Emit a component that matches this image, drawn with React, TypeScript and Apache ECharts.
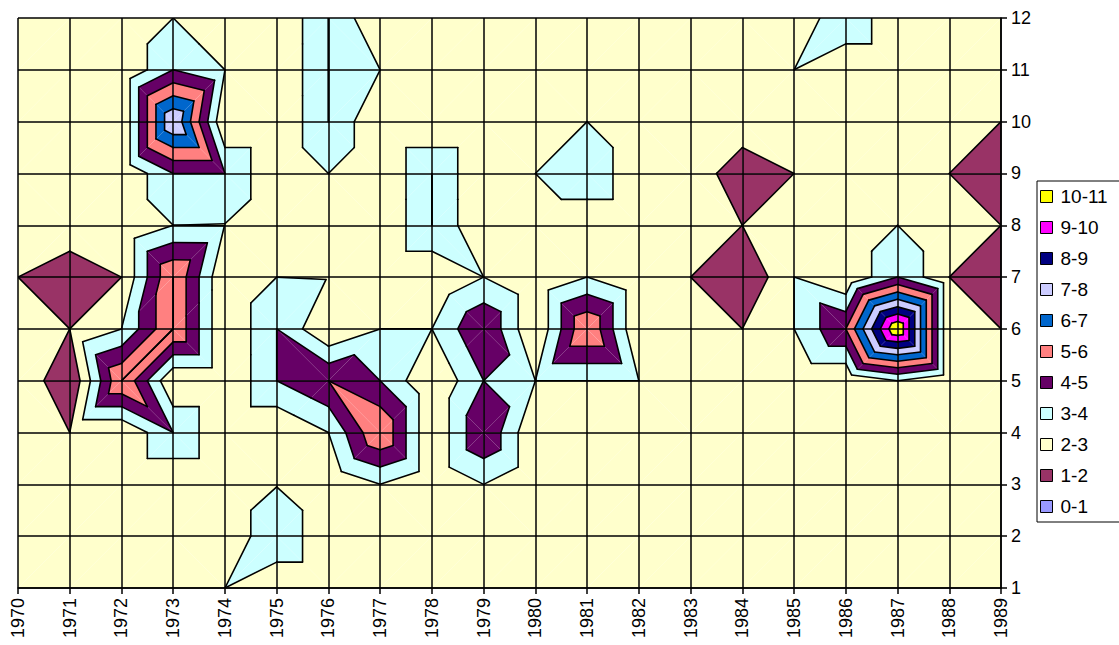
import React, { useEffect, useRef } from "react";
import * as echarts from "echarts";

// ---- data ----
const years = [1970, 1971, 1972, 1973, 1974, 1975, 1976, 1977, 1978, 1979, 1980, 1981, 1982, 1983, 1984, 1985, 1986, 1987, 1988, 1989];
const months = [1, 2, 3, 4, 5, 6, 7, 8, 9, 10, 11, 12];

// value for months 1..12 of each year
const z1970 = [2, 2, 2, 2, 3, 2, 2, 2, 2, 2, 2, 2];
const z1971 = [2, 2, 2, 2, 1, 2, 1, 3, 2, 2, 2, 2];
const z1972 = [2, 2, 2, 2, 6, 3, 2, 2, 2, 2, 2, 2];
const z1973 = [2, 2, 2, 4, 2, 6, 6, 3, 4, 8, 4, 3];
const z1974 = [3, 2, 2, 2, 2, 2, 2, 2.97, 4, 2, 3, 2];
const z1975 = [2, 4, 2.95, 2, 4, 4, 3, 2, 2, 2, 2, 2];
const z1976 = [2, 2, 2, 3, 5, 2, 2.95, 2, 3, 4, 4, 4];
const z1977 = [2, 2, 3, 6, 4, 3, 2, 2, 2, 2, 3, 2];
const z1978 = [2, 2, 2, 2, 2, 3, 2, 4, 4, 2, 2, 2];
const z1979 = [2, 2, 3, 5, 4, 5, 3, 2, 2, 2, 2, 2];
const z1980 = [2, 2, 2, 2, 3, 2, 2, 2, 3, 2, 2, 2];
const z1981 = [2, 2, 2, 2, 3, 6, 3, 2, 4, 3, 2, 2];
const z1982 = [2, 2, 2, 2, 3, 2, 2, 2, 2, 2, 2, 2];
const z1983 = [2, 2, 2, 2, 2, 2, 2, 2, 2.5, 2, 2, 2];
const z1984 = [2, 2, 2, 2, 2, 2, 1, 2, 1.5, 2.5, 2, 2];
const z1985 = [2, 2, 2, 2, 2, 3, 3, 2, 2, 2, 3, 2];
const z1986 = [2, 2, 2, 2, 2, 5, 2, 2, 2, 2, 2, 4];
const z1987 = [2, 2, 2, 2, 3, 11, 4, 3, 2, 2, 2, 2];
const z1988 = [2, 2, 2, 2, 2, 2, 2, 2, 2, 2, 2, 2];
const z1989 = [2, 2, 2, 2, 2, 2, 1, 2, 1, 2, 2, 2];

const Z = [z1970, z1971, z1972, z1973, z1974, z1975, z1976, z1977, z1978, z1979, z1980, z1981, z1982, z1983, z1984, z1985, z1986, z1987, z1988, z1989];

const bandLabels = ["0-1", "1-2", "2-3", "3-4", "4-5", "5-6", "6-7", "7-8", "8-9", "9-10", "10-11"];
const bandColors = ["#9999FF", "#993366", "#FFFFCC", "#CCFFFF", "#660066", "#FF8080", "#0066CC", "#CCCCFF", "#000080", "#FF00FF", "#FFFF00"];
const contourLevels = [1, 2, 3, 4, 5, 6, 7, 8, 9, 10, 11];

const FONT = "'Liberation Sans', Arial, Helvetica, sans-serif";

type P = [number, number, number];

function cellTriangles(i: number, j: number): P[][] {
  const x0 = years[i], x1 = years[i + 1], y0 = months[j], y1 = months[j + 1];
  const A: P = [x0, y0, Z[i][j]];
  const B: P = [x1, y0, Z[i + 1][j]];
  const C: P = [x0, y1, Z[i][j + 1]];
  const D: P = [x1, y1, Z[i + 1][j + 1]];
  if (A[2] + D[2] >= B[2] + C[2]) return [[A, B, D], [A, D, C]];
  return [[A, B, C], [B, D, C]];
}

function clip(poly: P[], L: number, above: boolean): P[] {
  const out: P[] = [];
  for (let k = 0; k < poly.length; k++) {
    const a = poly[k], b = poly[(k + 1) % poly.length];
    const ina = above ? a[2] >= L : a[2] <= L;
    const inb = above ? b[2] >= L : b[2] <= L;
    if (ina) out.push(a);
    if (ina !== inb) {
      const t = (L - a[2]) / (b[2] - a[2]);
      out.push([a[0] + t * (b[0] - a[0]), a[1] + t * (b[1] - a[1]), L]);
    }
  }
  return out;
}

function area(poly: P[]): number {
  let s = 0;
  for (let k = 0; k < poly.length; k++) {
    const a = poly[k], b = poly[(k + 1) % poly.length];
    s += a[0] * b[1] - b[0] * a[1];
  }
  return Math.abs(s / 2);
}

const cells: number[][] = [];
for (let i = 0; i < years.length - 1; i++) {
  for (let j = 0; j < months.length - 1; j++) cells.push([years[i], months[j]]);
}

function bandRenderer(k: number) {
  return (params: any, api: any) => {
    const i = years.indexOf(api.value(0));
    const j = months.indexOf(api.value(1));
    const children: any[] = [];
    for (const tri of cellTriangles(i, j)) {
      let poly = clip(tri, k, true);
      if (poly.length < 3) continue;
      poly = clip(poly, k + 1, false);
      if (poly.length < 3 || area(poly) < 1e-7) continue;
      const minZ = Math.min(...poly.map((p) => p[2]));
      if (minZ >= k + 1 - 1e-9) continue;
      children.push({
        type: "polygon",
        shape: { points: poly.map((p) => api.coord([p[0], p[1]])) },
        style: { fill: bandColors[k], stroke: null },
      });
    }
    return { type: "group", children };
  };
}

function contourRenderer(params: any, api: any) {
  const i = years.indexOf(api.value(0));
  const j = months.indexOf(api.value(1));
  const children: any[] = [];
  for (const tri of cellTriangles(i, j)) {
    for (const L of contourLevels) {
      const up = tri.map((p) => p[2] >= L);
      const n = up.filter(Boolean).length;
      if (n === 0 || n === 3) continue;
      const pts: number[][] = [];
      for (let e = 0; e < 3; e++) {
        const a = tri[e], b = tri[(e + 1) % 3];
        if (up[e] !== up[(e + 1) % 3]) {
          const t = (L - a[2]) / (b[2] - a[2]);
          pts.push([a[0] + t * (b[0] - a[0]), a[1] + t * (b[1] - a[1])]);
        }
      }
      if (pts.length < 2) continue;
      const p1 = api.coord(pts[0]);
      const p2 = api.coord(pts[1]);
      if (Math.hypot(p1[0] - p2[0], p1[1] - p2[1]) < 0.3) continue;
      children.push({
        type: "line",
        shape: { x1: p1[0], y1: p1[1], x2: p2[0], y2: p2[1] },
        style: { stroke: "#000", lineWidth: 1.6, lineCap: "round" },
      });
    }
  }
  return { type: "group", children };
}

export default function App() {
  const ref = useRef<HTMLDivElement>(null);
  useEffect(() => {
    if (!ref.current) return;
    const chart = echarts.init(ref.current, undefined, { renderer: "svg" });
    const axisCommon = {
      type: "value" as const,
      interval: 1,
      z: 6,
      axisLine: { show: true, lineStyle: { color: "#000", width: 1.5 } },
      axisTick: { show: true, length: 6, lineStyle: { color: "#000", width: 1.5 } },
      splitLine: { show: true, lineStyle: { color: "#000", width: 1.5 } },
    };
    const option: any = {
      animation: false,
      backgroundColor: "#fff",
      grid: { left: 18, right: 118, top: 18, bottom: 57, containLabel: false },
      xAxis: {
        ...axisCommon,
        min: 1970,
        max: 1989,
        axisLabel: { rotate: 90, margin: 10, color: "#000", fontSize: 18, fontFamily: FONT, formatter: (v: number) => String(v) },
      },
      yAxis: {
        ...axisCommon,
        position: "right",
        min: 1,
        max: 12,
        axisLabel: { margin: 10, color: "#000", fontSize: 18, fontFamily: FONT, formatter: (v: number) => String(v) },
      },
      legend: {
        orient: "vertical",
        left: 1037,
        top: 181,
        data: bandLabels.slice().reverse(),
        icon: "rect",
        itemWidth: 12,
        itemHeight: 12,
        itemGap: 10,
        itemStyle: { borderColor: "#000", borderWidth: 1 },
        textStyle: { color: "#000", fontSize: 19, fontFamily: FONT, lineHeight: 21, padding: [0, 0, 0, 3] },
        borderColor: "#000",
        borderWidth: 1,
        padding: [5, 40, 5, 3],
        selectedMode: false,
      },
      series: [
        ...bandLabels.map((name, k) => ({
          type: "custom",
          name,
          coordinateSystem: "cartesian2d",
          data: cells,
          clip: true,
          silent: true,
          z: 2,
          itemStyle: { color: bandColors[k] },
          renderItem: bandRenderer(k),
        })),
        {
          type: "custom",
          name: "contours",
          coordinateSystem: "cartesian2d",
          data: cells,
          clip: true,
          silent: true,
          z: 3,
          renderItem: contourRenderer,
        },
      ],
    };
    chart.setOption(option);
    return () => chart.dispose();
  }, []);
  return <div ref={ref} style={{ position: "fixed", left: 0, top: 0, width: 1119, height: 645, background: "#fff" }} />;
}
